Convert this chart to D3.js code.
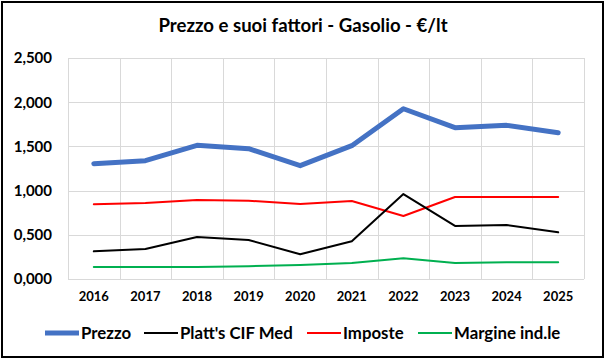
<!DOCTYPE html>
<html><head><meta charset="utf-8">
<script src="https://cdn.jsdelivr.net/npm/d3@7"></script>
<style>html,body{margin:0;padding:0;background:#fff;}svg{display:block;}</style>
</head><body><svg id="c" width="606" height="361"></svg>
<script>
const years = ["2016","2017","2018","2019","2020","2021","2022","2023","2024","2025"];
const prezzo = [1.304,1.338,1.512,1.474,1.282,1.508,1.926,1.712,1.738,1.655];
const platts = [0.313,0.339,0.475,0.441,0.279,0.426,0.961,0.600,0.611,0.528];
const imposte = [0.845,0.860,0.894,0.886,0.848,0.882,0.713,0.928,0.928,0.928];
const margine = [0.136,0.136,0.136,0.145,0.158,0.181,0.234,0.181,0.189,0.189];
const yTicks = [0,0.5,1,1.5,2,2.5];
const seriesNames = ["Prezzo","Platt's CIF Med","Imposte","Margine ind.le"];
const seriesColors = ["#4472C4","#000000","#FF0000","#00B050"];
const seriesWidths = [5,2,2,2];
const seriesData = [prezzo, platts, imposte, margine];

const svg = d3.select("#c");
const font = "Lato, 'Open Sans', sans-serif";
svg.append("rect").attr("x",2).attr("y",2).attr("width",601).attr("height",355)
  .attr("fill","#fff").attr("stroke","#000").attr("stroke-width",2);

svg.append("text").attr("x",303).attr("y",32).attr("text-anchor","middle")
  .attr("font-family",font).attr("font-weight","bold").attr("font-size",18.6)
  .text("Prezzo e suoi fattori - Gasolio - €/lt");

const L=68,R=584,T=58,B=279;
const x = d3.scaleBand().domain(years).range([L,R]);
const y = d3.scaleLinear().domain([0,2.5]).range([B,T]);

const g = svg.append("g");
g.selectAll("line.h").data(yTicks).join("line")
  .attr("x1",L).attr("x2",R).attr("y1",d=>Math.round(y(d))+0.5).attr("y2",d=>Math.round(y(d))+0.5)
  .attr("stroke","#D9D9D9").attr("stroke-width",1);
const edges = years.map(d=>x(d)).concat([R]);
g.selectAll("line.v").data(edges).join("line")
  .attr("x1",d=>Math.round(d)+0.5).attr("x2",d=>Math.round(d)+0.5).attr("y1",T).attr("y2",B)
  .attr("stroke","#D9D9D9").attr("stroke-width",1);

const yAxis = d3.axisLeft(y).tickValues(yTicks).tickSize(0).tickPadding(0)
  .tickFormat(d => { const s = d3.format(".3f")(d).split("."); return s[0]+","+s[1]; });
const ya = svg.append("g").attr("transform",`translate(52,0)`).call(yAxis);
ya.select(".domain").remove();
ya.selectAll("text").attr("font-family",font).attr("font-weight","bold").attr("font-size",15).attr("fill","#000");

const xAxis = d3.axisBottom(x).tickSize(0).tickPadding(0);
const xa = svg.append("g").attr("transform",`translate(0,${B+13})`).call(xAxis);
xa.select(".domain").remove();
xa.selectAll("text").attr("font-family",font).attr("font-weight","bold").attr("font-size",13).attr("fill","#000");

const line = d3.line().x((d,i)=>x(years[i])+x.bandwidth()/2).y(d=>y(d));
[3,2,1,0].forEach(k=>{
  svg.append("path").datum(seriesData[k]).attr("d",line).attr("fill","none")
    .attr("stroke",seriesColors[k]).attr("stroke-width",seriesWidths[k])
    .attr("stroke-linejoin","round").attr("stroke-linecap","round");
});

const legX = [45,144,307,418];
const lg = svg.append("g");
seriesNames.forEach((n,k)=>{
  lg.append("line").attr("x1",legX[k]).attr("x2",legX[k]+34).attr("y1",333).attr("y2",333)
    .attr("stroke",seriesColors[k]).attr("stroke-width",seriesWidths[k]);
  lg.append("text").attr("x",legX[k]+36).attr("y",339).attr("font-family",font)
    .attr("font-weight","bold").attr("font-size",16.8).text(n);
});
</script></body></html>
